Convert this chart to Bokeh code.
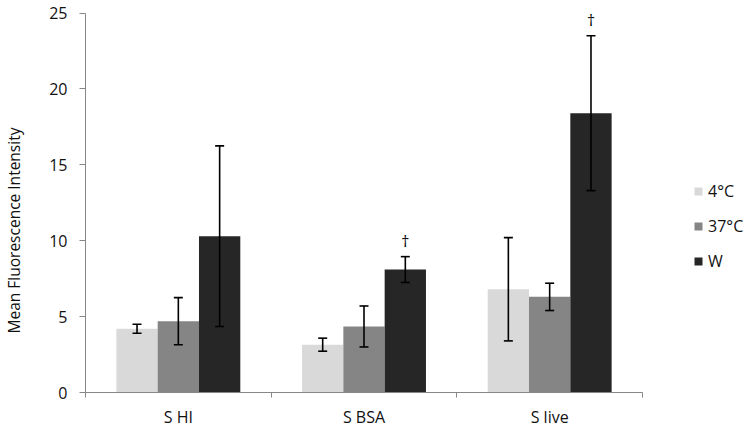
import math
from bokeh.plotting import figure
from bokeh.models import (ColumnDataSource, Range1d, FixedTicker, Whisker, TeeHead,
                          Legend, LegendItem, Label)
from bokeh.core.properties import value
from bokeh.embed import file_html
from bokeh.resources import INLINE

# ---- data ----
categories = ["S HI", "S BSA", "S live"]
series = ["4°C", "37°C", "W"]
mean_4c = [4.2, 3.15, 6.8]
err_4c = [0.3, 0.43, 3.4]
mean_37c = [4.7, 4.35, 6.3]
err_37c = [1.55, 1.35, 0.9]
mean_w = [10.3, 8.1, 18.4]
err_w = [5.95, 0.85, 5.1]
marks_w = ["", "†", "†"]
y_ticks = [0, 5, 10, 15, 20, 25]

colors = ["#d9d9d9", "#858585", "#262626"]
FONT = "Open Sans"
AXIS_GREY = "#878787"
TEXT = "#111111"
BAR_W = 0.2225

W, H = 751, 430
AX_X, AX_Y, TOP_Y = 85, 392, 12.5          # page pixels of the axes' corner and of y=25
PX_X = (642 - AX_X) / len(categories)      # pixels per category
PX_Y = (AX_Y - TOP_Y) / y_ticks[-1]        # pixels per unit

p = figure(width=W, height=H,
           x_range=Range1d(-AX_X / PX_X, (W - AX_X) / PX_X),
           y_range=Range1d(-(H - AX_Y) / PX_Y, y_ticks[-1] + TOP_Y / PX_Y),
           output_backend="svg", toolbar_location=None,
           min_border_left=0, min_border_right=0, min_border_top=0, min_border_bottom=0)
p.xgrid.visible = False
p.ygrid.visible = False
p.outline_line_color = None
p.background_fill_color = "white"
p.border_fill_color = "white"

# x axis: labels at category centres, small ticks at category boundaries
centers = [j + 0.5 for j in range(len(categories))]
p.xaxis.fixed_location = 0
p.xaxis.bounds = (0, len(categories))
p.xaxis.ticker = FixedTicker(ticks=centers, minor_ticks=list(range(len(categories) + 1)))
p.xaxis.major_label_overrides = {c: name for c, name in zip(centers, categories)}
p.xaxis.major_tick_out = 0
p.xaxis.major_tick_in = 0
p.xaxis.minor_tick_out = 5
p.xaxis.minor_tick_in = 0
p.xaxis.major_label_standoff = 8
p.xaxis.major_label_text_font = FONT
p.xaxis.major_label_text_font_size = "16px"
p.xaxis.major_label_text_color = TEXT
p.xaxis.axis_line_color = AXIS_GREY
p.xaxis.minor_tick_line_color = AXIS_GREY

# y axis
p.yaxis.fixed_location = 0
p.yaxis.bounds = (0, y_ticks[-1])
p.yaxis.ticker = FixedTicker(ticks=y_ticks)
p.yaxis.major_tick_out = 6
p.yaxis.major_tick_in = 0
p.yaxis.minor_tick_out = 0
p.yaxis.minor_tick_in = 0
p.yaxis.major_label_standoff = 12
p.yaxis.major_label_text_font = FONT
p.yaxis.major_label_text_font_size = "16px"
p.yaxis.major_label_text_color = TEXT
p.yaxis.axis_line_color = AXIS_GREY
p.yaxis.major_tick_line_color = AXIS_GREY

means = [mean_4c, mean_37c, mean_w]
errs = [err_4c, err_37c, err_w]
items = []
for i, (name, m, e, c) in enumerate(zip(series, means, errs, colors)):
    xs = [j + 0.5 + (i - 1) * BAR_W for j in range(len(categories))]
    src = ColumnDataSource(dict(x=xs, top=m,
                                upper=[a + b for a, b in zip(m, e)],
                                lower=[a - b for a, b in zip(m, e)]))
    r = p.vbar(x="x", top="top", width=BAR_W, bottom=0, source=src,
               fill_color=c, line_color=None)
    items.append(LegendItem(label=name, renderers=[r]))
    wh = Whisker(source=src, base="x", upper="upper", lower="lower",
                 line_color="black", line_width=1.6,
                 upper_head=TeeHead(size=9, line_color="black", line_width=1.6),
                 lower_head=TeeHead(size=9, line_color="black", line_width=1.6),
                 level="overlay")
    p.add_layout(wh)
    if i == 2:
        dsrc = ColumnDataSource(dict(x=xs, y=[a + b for a, b in zip(m, e)], t=marks_w))
        p.text(x="x", y="y", text="t", source=dsrc, text_align="center",
               text_baseline="middle", y_offset=-16, text_font=value(FONT),
               text_font_size="16px", text_color="black")

# y axis title
p.add_layout(Label(x=13, y=H - 230, x_units="screen", y_units="screen",
                   text="Mean Fluorescence Intensity", angle=math.pi / 2,
                   text_align="center", text_baseline="middle",
                   text_font=FONT, text_font_size="15.5px", text_color=TEXT))

legend = Legend(items=items, location=(693, H - 272), glyph_width=10, glyph_height=10,
                label_height=22, spacing=13, padding=0, margin=0, label_standoff=5,
                border_line_color=None, background_fill_alpha=0,
                label_text_font=FONT, label_text_font_size="16px",
                label_text_color=TEXT)
p.add_layout(legend)

open("out.html", "w").write(file_html(p, INLINE))
